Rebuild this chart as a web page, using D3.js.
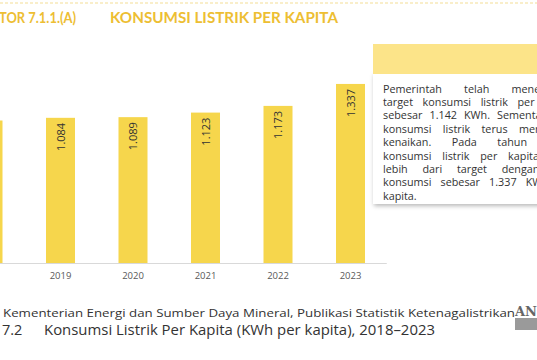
<!DOCTYPE html>
<html><head><meta charset="utf-8">
<script src="https://cdn.jsdelivr.net/npm/d3@7"></script>
<style>
html,body{margin:0;padding:0;background:#fff;overflow:hidden;}
svg{display:block;}
</style></head>
<body>
<svg id="c" width="537" height="360"></svg>
<script>
const years = ["2018","2019","2020","2021","2022","2023"];
const values = [1064, 1084, 1089, 1123, 1173, 1337];
const titleLeft = "TOR 7.1.1.(A)";
const titleMain = "KONSUMSI LISTRIK PER KAPITA";
const noteLines = [
  "Pemerintah telah menetapkan",
  "target konsumsi listrik per kapita",
  "sebesar 1.142 KWh. Sementara itu,",
  "konsumsi listrik terus mengalami",
  "kenaikan. Pada tahun 2023,",
  "konsumsi listrik per kapita telah",
  "lebih dari target dengan nilai",
  "konsumsi sebesar 1.337 KWh per",
  "kapita."
];
const sourceText = "Kementerian Energi dan Sumber Daya Mineral, Publikasi Statistik Ketenagalistrikan";
const captionNum = "7.2";
const captionText = "Konsumsi Listrik Per Kapita (KWh per kapita), 2018\u20132023";

const svg = d3.select("#c");
const defs = svg.append("defs");
const f = defs.append("filter").attr("id","sh").attr("x","-20%").attr("y","-20%").attr("width","150%").attr("height","150%");
f.append("feDropShadow").attr("dx",1).attr("dy",2).attr("stdDeviation",2).attr("flood-color","#000").attr("flood-opacity",0.28);

// top dashed line
svg.append("line").attr("x1",0).attr("x2",537).attr("y1",3).attr("y2",3)
  .attr("stroke","#F3DD95").attr("stroke-width",1).attr("stroke-dasharray","3,2");

// title
const titleColor = "#EDBE33";
svg.append("text").attr("x",-1).attr("y",23).text(titleLeft)
  .attr("font-family","Lato, 'Open Sans', sans-serif").attr("font-weight",700)
  .attr("font-size",15.5).attr("fill",titleColor).attr("textLength",77).attr("lengthAdjust","spacingAndGlyphs");
svg.append("text").attr("x",110).attr("y",23).text(titleMain)
  .attr("font-family","Lato, 'Open Sans', sans-serif").attr("font-weight",700)
  .attr("font-size",15.5).attr("fill",titleColor).attr("textLength",228).attr("lengthAdjust","spacingAndGlyphs");

// scales
const baseY = 263;
const x = d3.scaleBand().domain(years).range([-48.25, 386.75]).paddingInner(0.6).paddingOuter(0.3);
const y = d3.scaleLinear().domain([0, 1400]).range([baseY, baseY - 187.5]);

// bars
svg.append("g").selectAll("rect").data(years).join("rect")
  .attr("x", d => x(d)).attr("width", x.bandwidth())
  .attr("y", (d,i) => y(values[i])).attr("height", (d,i) => baseY - y(values[i]))
  .attr("fill", "#F6D64C");

// axis baseline
svg.append("line").attr("x1",0).attr("x2",x.range()[1]).attr("y1",baseY+0.5).attr("y2",baseY+0.5)
  .attr("stroke","#D9D9D9").attr("stroke-width",1);

// year labels via axis
const ax = svg.append("g").attr("transform",`translate(0,${baseY})`)
  .call(d3.axisBottom(x).tickSize(0).tickPadding(9));
ax.select(".domain").remove();
ax.selectAll("text").attr("font-family","'Open Sans', sans-serif").attr("font-size",9.5).attr("fill","#595959");

// value labels
const fmt = v => d3.format(",")(v).replace(/,/g, ".");
svg.append("g").selectAll("text").data(years).join("text")
  .attr("transform", (d,i) => `translate(${x(d)+x.bandwidth()/2 + 4},${y(values[i]) + 5}) rotate(-90)`)
  .attr("text-anchor","end")
  .attr("font-family","'Open Sans', sans-serif").attr("font-size",11).attr("fill","#333")
  .text((d,i) => fmt(values[i]));

// note box
svg.append("rect").attr("x",373).attr("y",73).attr("width",210).attr("height",131)
  .attr("fill","#fff").attr("filter","url(#sh)");
svg.append("rect").attr("x",373).attr("y",44).attr("width",210).attr("height",30).attr("fill","#FCE489");
const noteW = 192, noteX = 383;
const ng = svg.append("g");
noteLines.forEach((ln, i) => {
  const t = ng.append("text").attr("x", noteX).attr("y", 92.5 + i*13.4)
    .attr("font-family","'Open Sans', sans-serif").attr("font-size",10.8).attr("fill","#333")
    .text(ln);
  if (i < noteLines.length - 1) {
    const w = t.node().getComputedTextLength();
    const gaps = ln.split(" ").length - 1;
    if (gaps > 0) t.attr("word-spacing", (noteW - w) / gaps);
  }
});

// source + caption
svg.append("text").attr("x",3).attr("y",317).text(sourceText)
  .attr("font-family","'Open Sans', sans-serif").attr("font-size",11.5).attr("fill","#333")
  .attr("textLength",512).attr("lengthAdjust","spacingAndGlyphs");
svg.append("text").attr("x",2).attr("y",335).text(captionNum)
  .attr("font-family","'Open Sans', sans-serif").attr("font-size",14.5).attr("fill","#333");
svg.append("text").attr("x",44).attr("y",335).text(captionText)
  .attr("font-family","'Open Sans', sans-serif").attr("font-size",14.5).attr("fill","#333")
  .attr("textLength",391).attr("lengthAdjust","spacingAndGlyphs");

// watermark logo fragment
svg.append("rect").attr("x",515).attr("y",318).attr("width",22).attr("height",12).attr("fill","#9a9a9a");
svg.append("text").attr("x",515).attr("y",316).text("AN")
  .attr("font-family","'DejaVu Serif', serif").attr("font-weight",700).attr("font-size",12).attr("fill","#666")
  .attr("textLength",22).attr("lengthAdjust","spacingAndGlyphs");
</script>
</body></html>
